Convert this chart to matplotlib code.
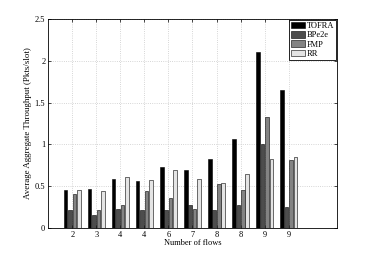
import numpy as np
import matplotlib
matplotlib.use("Agg")
import matplotlib.pyplot as plt

plt.rcParams['font.family'] = ['Liberation Serif', 'DejaVu Serif']

flows = ["2", "3", "4", "4", "6", "7", "8", "8", "9", "9"]
tofra = [0.46, 0.47, 0.58, 0.56, 0.73, 0.69, 0.82, 1.06, 2.11, 1.65]
bpe2e = [0.22, 0.15, 0.23, 0.22, 0.22, 0.27, 0.21, 0.28, 1.00, 0.25]
fmp = [0.41, 0.22, 0.28, 0.44, 0.36, 0.23, 0.53, 0.45, 1.33, 0.81]
rr = [0.45, 0.44, 0.61, 0.57, 0.69, 0.58, 0.54, 0.65, 0.82, 0.85]

series = [("TOFRA", tofra, "#000000"),
          ("BPe2e", bpe2e, "#4d4d4d"),
          ("FMP", fmp, "#838383"),
          ("RR", rr, "#e4e4e4")]

fig = plt.figure(figsize=(3.73, 2.57), dpi=100)
ax = fig.add_axes([0.129, 0.113, 0.774, 0.813])

x = np.arange(1, len(flows) + 1)
step = 0.185
width = 0.15
for i, (name, vals, col) in enumerate(series):
    ax.bar(x + (i - 1.5) * step, vals, width, color=col, edgecolor="black",
           linewidth=0.4, label=name, zorder=3)

ax.set_xlim(0, 12)
ax.set_ylim(0, 2.5)
ax.set_xticks(x)
ax.set_xticklabels(flows)
ax.set_yticks([0, 0.5, 1, 1.5, 2, 2.5])
ax.set_yticklabels(["0", "0.5", "1", "1.5", "2", "2.5"])
ax.grid(True, linestyle=":", color="#c8c8c8", linewidth=0.6, zorder=0)
ax.tick_params(direction="in", length=2, width=0.5, labelsize=6,
               top=True, right=True, pad=2)
for s in ax.spines.values():
    s.set_linewidth(0.6)

ax.set_xlabel("Number of flows", fontsize=6, labelpad=0)
ax.set_ylabel("Average Aggregate Throughput (Pkts/slot)", fontsize=6.4, labelpad=2)

leg = ax.legend(loc="upper right", fontsize=6, fancybox=False, framealpha=1,
                edgecolor="black", borderaxespad=0.1, handlelength=1.7,
                handleheight=0.9, handletextpad=0.2, labelspacing=0.12,
                borderpad=0.2)
leg.get_frame().set_linewidth(0.6)

fig.savefig("out.png", dpi=100)
